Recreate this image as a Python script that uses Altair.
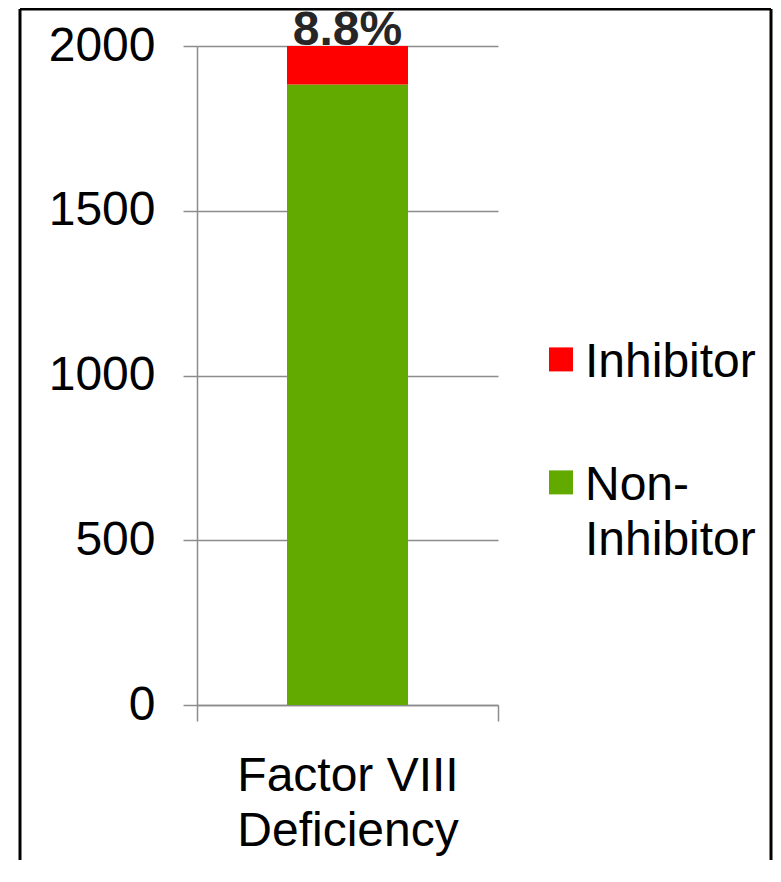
import altair as alt
import pandas as pd

# ---- data ----
categories = ["Factor VIII Deficiency"]
statuses = ["Non-Inhibitor", "Inhibitor"]
counts = [1883, 117]
stack_order = [0, 1]
legend_order = ["Inhibitor", "Non-Inhibitor"]
colors = ["#FF0000", "#63AA00"]
pct_labels = ["8.8%"]
y_ticks = [0, 500, 1000, 1500, 2000]

bars_df = pd.DataFrame({
    "category": categories * len(statuses),
    "status": statuses,
    "count": counts,
    "ord": stack_order,
})
label_df = pd.DataFrame({
    "category": categories,
    "total": [sum(counts)],
    "label": pct_labels,
})
frame_df = pd.DataFrame({"k": [0]})

FONT = "Liberation Sans"
FS = 48
GRAY = "#8C8C8C"
SQUARE = "M-1,0.7H1V2.7H-1Z"

x_enc = alt.X(
    "category:N",
    scale=alt.Scale(paddingInner=0, paddingOuter=0),
    axis=alt.Axis(
        title=None, tickBand="extent", tickSize=16, tickColor=GRAY, tickWidth=1.5,
        domainColor=GRAY, domainWidth=1.5, labelAngle=0, labelFont=FONT,
        labelFontSize=FS, labelColor="black", labelLineHeight=55, labelPadding=31,
        labelLimit=0,
        labelExpr="split(replace(datum.label, 'VIII ', 'VIII|'), '|')",
    ),
)

y_scale = alt.Scale(domain=[y_ticks[0], y_ticks[-1]], nice=False)

bars = alt.Chart(bars_df).mark_bar(size=121).encode(
    x=x_enc,
    y=alt.Y(
        "count:Q", stack="zero", scale=y_scale,
        axis=alt.Axis(
            title=None, values=y_ticks, format="d", grid=True, gridColor=GRAY,
            gridWidth=1.5, tickSize=14, tickColor=GRAY, tickWidth=1.5,
            domainColor=GRAY, domainWidth=1.5, labelFont=FONT, labelFontSize=FS,
            labelColor="black", labelPadding=28,
        ),
    ),
    color=alt.Color(
        "status:N",
        scale=alt.Scale(domain=legend_order, range=colors),
        legend=alt.Legend(
            title=None, orient="none", legendX=339, legendY=269,
            symbolType=SQUARE, symbolSize=576, symbolStrokeWidth=0,
            symbolOffset=1, labelOffset=0, labelFont=FONT, labelFontSize=FS,
            labelColor="black", labelBaseline="top", labelLimit=0, rowPadding=51,
            padding=0,
            labelExpr="split(replace(datum.label, 'Non-', 'Non-|'), '|')",
        ),
    ),
    order=alt.Order("ord:Q", sort="ascending"),
)

text = alt.Chart(label_df).mark_text(
    font=FONT, fontSize=FS, fontWeight="bold", color="#262626",
    baseline="alphabetic", align="center", dy=-1,
).encode(
    x=alt.X("category:N"),
    y=alt.Y("total:Q", scale=y_scale),
    text="label:N",
)

frame_top = alt.Chart(frame_df).mark_rule(color="black", strokeWidth=3).encode(
    x=alt.value(-177), x2=alt.value(574), y=alt.value(-37), y2=alt.value(-37))
frame_left = alt.Chart(frame_df).mark_rule(color="black", strokeWidth=3).encode(
    x=alt.value(-177), x2=alt.value(-177), y=alt.value(-37), y2=alt.value(814))
frame_right = alt.Chart(frame_df).mark_rule(color="black", strokeWidth=3).encode(
    x=alt.value(574), x2=alt.value(574), y=alt.value(-37), y2=alt.value(814))

chart = alt.layer(bars, text, frame_top, frame_left, frame_right).properties(
    width=301,
    height=659,
    padding={"left": 189, "top": 38, "right": 275, "bottom": 155},
    autosize=alt.AutoSizeParams(type="none"),
    background="white",
).configure(
    style={"guide-label": {"lineHeight": 55}},
    view=alt.ViewConfig(stroke=None),
)

chart.save("out.html", embed_options={"renderer": "svg", "actions": False})
